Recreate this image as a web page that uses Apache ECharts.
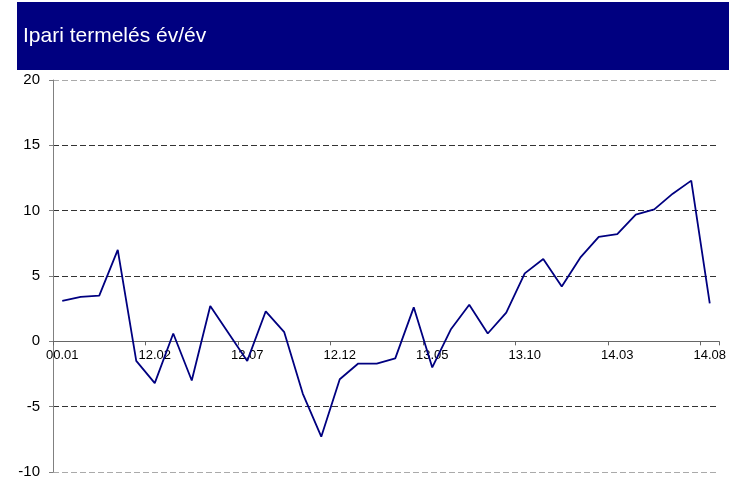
<!DOCTYPE html>
<html>
<head>
<meta charset="utf-8">
<script src="https://cdn.jsdelivr.net/npm/echarts@6/dist/echarts.min.js"></script>
<style>
html,body{margin:0;padding:0;background:#fff;}
#c{width:736px;height:479px;}
</style>
</head>
<body>
<div id="c"></div>
<script>
const titleText = 'Ipari termelés év/év';
const categories = ['00.01','11.10','11.11','11.12','12.01','12.02','12.03','12.04','12.05','12.06',
  '12.07','12.08','12.09','12.10','12.11','12.12','13.01','13.02','13.03','13.04',
  '13.05','13.06','13.07','13.08','13.09','13.10','13.11','13.12','14.01','14.02',
  '14.03','14.04','14.05','14.06','14.07','14.08'];
const values = [3.1, 3.4, 3.5, 7.0, -1.5, -3.2, 0.6, -3.0, 2.7, 0.6,
  -1.5, 2.3, 0.7, -4.0, -7.3, -2.9, -1.7, -1.7, -1.3, 2.6,
  -2.0, 0.9, 2.8, 0.6, 2.2, 5.2, 6.3, 4.2, 6.4, 8.0,
  8.2, 9.7, 10.1, 11.3, 12.3, 2.9];
const yMin = -10, yMax = 20, yStep = 5;

const gridTop = 80, gridBottom = 7, H = 479;
const plotH = H - gridTop - gridBottom;
const zeroOffset = -plotH * (0 - yMin) / (yMax - yMin);

const chart = echarts.init(document.getElementById('c'), null, {renderer: 'canvas'});
chart.setOption({
  animation: false,
  backgroundColor: '#fff',
  textStyle: {fontFamily: 'Liberation Sans, Arial, sans-serif'},
  graphic: [
    {type: 'rect', shape: {x: 17, y: 2, width: 712, height: 68}, style: {fill: '#000080'}, z: 10},
    {type: 'text', x: 23, y: 36, z: 11, style: {text: titleText, fill: '#fff', font: '21px "Liberation Sans", Arial, sans-serif', textVerticalAlign: 'middle'}}
  ],
  grid: {left: 53, right: 17, top: gridTop, bottom: gridBottom, containLabel: false, outerBoundsMode: 'none'},
  xAxis: {
    type: 'category',
    data: categories,
    boundaryGap: true,
    position: 'bottom',
    offset: zeroOffset,
    axisLine: {onZero: false, lineStyle: {color: '#666', width: 1}},
    axisTick: {show: true, interval: 4, length: 4, lineStyle: {color: '#666'}},
    axisLabel: {interval: 4, color: '#000', fontSize: 13, margin: 8, fontFamily: 'Liberation Sans'},
    splitLine: {show: false}
  },
  yAxis: {
    type: 'value',
    min: yMin, max: yMax, interval: yStep,
    axisLine: {show: true, lineStyle: {color: '#808080', width: 1}},
    axisTick: {show: true, length: 4, lineStyle: {color: '#808080'}},
    axisLabel: {color: '#000', fontSize: 15, margin: 13, fontFamily: 'Liberation Sans'},
    splitLine: {show: true, lineStyle: {type: [6, 3], width: 1, color: ['#aaa', '#333', '#333', '#333', '#333', '#333', '#aaa']}}
  },
  series: [{
    type: 'line',
    data: values,
    showSymbol: false,
    symbol: 'none',
    lineStyle: {color: '#000080', width: 1.8},
    z: 3
  }]
});
</script>
</body>
</html>
